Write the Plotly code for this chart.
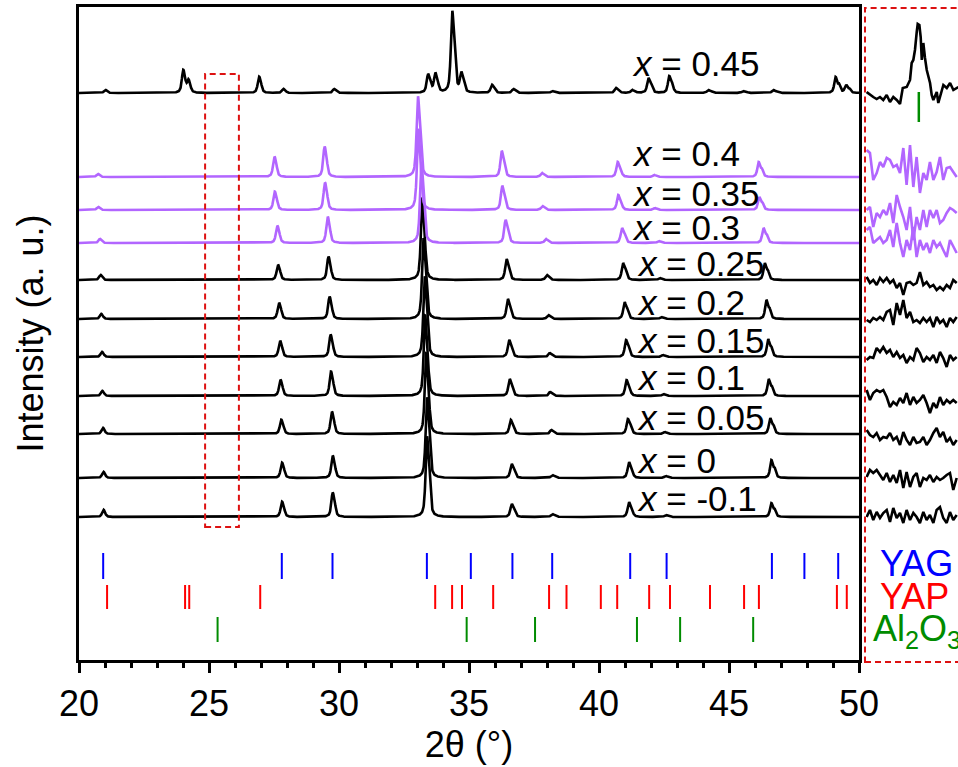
import numpy as np
import plotly.graph_objects as go

# ---------------- data ----------------
# base YAG-type peak positions (2θ, deg) of the x <= 0.25 series (x = -0.1 positions)
BASE_PEAKS = [20.93, 27.80, 29.75, 33.38, 36.64, 38.20, 41.15, 42.57, 46.63]

BLACK_LABELS = ["0.25", "0.2", "0.15", "0.1", "0.05", "0", "-0.1"]
BLACK_OFFSETS = [380, 341, 303, 264, 226, 182, 143]
BLACK_SHIFTS = [-0.0055, -0.0041, -0.0027, -0.0022, -0.0010, 0.0, 0.0]
BLACK_HEIGHTS = [
    [5, 15, 23, 80, 21, 5, 17, 2, 17],
    [5, 16, 22, 80, 20, 4, 17, 2, 19],
    [5, 16, 22, 80, 17, 4, 17, 2, 18],
    [5, 16, 24, 80, 17, 4, 16, 2, 17],
    [6, 14, 22, 80, 14, 4, 15, 2, 16],
    [6, 15, 22, 80, 14, 3, 16, 2, 18],
    [7, 15, 24, 80, 13, 3, 15, 2, 14],
]

PURPLE_LABELS = ["0.4", "0.35", "0.3"]
PURPLE_OFFSETS = [483, 450, 417]
PURPLE_SHIFTS = [-0.0105, -0.0100, -0.0065]
PURPLE_HEIGHTS = [
    [3, 20, 30, 80, 26, 4, 15, 2, 15],
    [3, 18, 27, 80, 24, 4, 15, 2, 13],
    [4, 17, 26, 80, 23, 4, 15, 2, 15],
]

TOP_LABEL = "0.45"
TOP_OFFSET = 567
TOP_PEAK_POS = [21.0, 24.0, 24.2, 26.92, 27.85, 29.8, 33.42, 33.7, 34.35, 34.7, 35.88,
                36.7, 38.2, 40.65, 41.27, 41.9, 42.7, 44.2, 45.55, 46.7, 49.1, 49.5]
TOP_PEAK_H = [3, 22, 12, 16, 4, 4, 18, 19, 81, 19, 8,
              4, 2, 5, 3, 15, 17, 3, 2, 3, 16, 8]

YAG_REF = [20.93, 27.8, 29.75, 33.38, 35.07, 36.67, 38.2, 41.2, 42.6, 46.65, 47.9, 49.2]
YAP_REF = [21.08, 24.08, 24.24, 26.97, 33.7, 34.35, 34.73, 35.93, 38.08, 38.75, 40.07,
           40.7, 41.93, 42.73, 44.27, 45.58, 46.15, 49.15, 49.53]
AL2O3_REF = [25.33, 34.91, 37.54, 41.46, 43.12, 45.93]

# zoomed inset (24.85-25.7 deg)
INSET_X = [24.856, 24.886, 24.916, 24.947, 24.977, 25.007, 25.038, 25.068, 25.098, 25.129,
           25.159, 25.189, 25.219, 25.25, 25.28, 25.31, 25.34, 25.371, 25.401, 25.431,
           25.462, 25.492, 25.522, 25.552, 25.583, 25.613, 25.643, 25.674]
INSET_PURPLE = [
    [510, 507, 480, 487, 498, 493, 502, 500, 493, 495, 487, 512, 475, 515, 473, 503, 467, 487,
     480, 498, 480, 488, 503, 480, 492, 493, 488, 483],
    [450, 453, 433, 447, 443, 450, 445, 457, 437, 465, 453, 443, 430, 453, 420, 443, 430, 450,
     433, 450, 442, 450, 437, 440, 447, 452, 450, 447],
    [430, 433, 417, 420, 423, 417, 420, 430, 413, 437, 417, 403, 420, 410, 433, 403, 420, 410,
     417, 407, 420, 413, 417, 410, 403, 420, 413, 407],
]
INSET_BLACK = [
    [383, 377, 380, 375, 382, 378, 382, 377, 380, 372, 377, 365, 377, 378, 375, 377, 388, 375,
     378, 373, 375, 370, 373, 370, 375, 372, 380, 377],
    [340, 338, 342, 340, 343, 340, 348, 350, 335, 357, 345, 360, 342, 348, 338, 340, 337, 342,
     338, 342, 333, 343, 337, 340, 333, 342, 338, 343],
    [300, 303, 302, 312, 308, 313, 307, 310, 303, 308, 302, 305, 297, 303, 300, 312, 307, 298,
     303, 300, 305, 297, 308, 302, 293, 305, 300, 303],
    [270, 260, 267, 270, 268, 270, 263, 253, 258, 255, 262, 257, 267, 255, 263, 257, 260, 265,
     257, 247, 257, 252, 263, 255, 260, 257, 260, 257],
    [230, 225, 223, 227, 220, 223, 222, 227, 220, 223, 215, 228, 220, 215, 223, 217, 218, 223,
     215, 220, 227, 232, 223, 228, 218, 222, 215, 220],
    [183, 190, 187, 190, 185, 180, 187, 178, 185, 177, 190, 172, 188, 173, 183, 187, 173, 182,
     180, 185, 178, 183, 180, 182, 185, 187, 170, 182],
    [143, 150, 140, 148, 142, 147, 150, 138, 152, 142, 147, 137, 150, 140, 147, 143, 137, 148,
     140, 145, 137, 150, 153, 142, 137, 148, 140, 145],
]
INSET_TOP_X = [24.856, 24.886, 24.916, 24.947, 24.977, 25.007, 25.038, 25.068, 25.098, 25.129,
               25.159, 25.184, 25.22, 25.25, 25.265, 25.28, 25.295, 25.311, 25.32, 25.335,
               25.347, 25.357, 25.371, 25.386, 25.402, 25.432, 25.447, 25.462, 25.493, 25.507,
               25.523, 25.553, 25.584, 25.614, 25.644, 25.689]
INSET_TOP_Y = [568, 565, 563, 561, 563, 560, 565, 558, 563, 560, 556, 572, 573, 580, 597, 600,
               610, 628, 636, 635, 623, 600, 617, 602, 590, 577, 565, 560, 568, 557, 563, 575,
               572, 577, 570, 573]

# ---------------- helpers ----------------
TT = np.arange(20.0, 50.0001, 0.01)
FWHM, ETA, KA2_RATIO = 0.12, 0.6, 0.5


def pv(d):
    u = d / (FWHM / 2)
    return ETA / (1 + u ** 2) + (1 - ETA) * np.exp(-np.log(2) * u ** 2)


def ka2(p):
    return 2 * np.degrees(np.arcsin(np.sin(np.radians(p / 2)) * 1.002486))


def pattern(positions, heights, offset):
    y = np.full_like(TT, float(offset))
    for p, h in zip(positions, heights):
        p2 = ka2(p)
        a = h / (1 + KA2_RATIO * pv(p2 - p))
        y += a * pv(TT - p) + a * KA2_RATIO * pv(TT - p2)
    return y


FONT = "Arial, Liberation Sans, sans-serif"
BLACK = "#000000"
PURPLE = "#b266ff"
RED = "#dd1111"

fig = go.Figure()

# black series (x <= 0.25)
for lab, off, sh, hs in zip(BLACK_LABELS, BLACK_OFFSETS, BLACK_SHIFTS, BLACK_HEIGHTS):
    pos = [p * (1 + sh) for p in BASE_PEAKS]
    fig.add_trace(go.Scatter(x=TT, y=pattern(pos, hs, off), mode="lines",
                             line=dict(color=BLACK, width=2.6), showlegend=False,
                             hoverinfo="skip"))
# purple series
for lab, off, sh, hs in zip(PURPLE_LABELS, PURPLE_OFFSETS, PURPLE_SHIFTS, PURPLE_HEIGHTS):
    pos = [p * (1 + sh) for p in BASE_PEAKS]
    fig.add_trace(go.Scatter(x=TT, y=pattern(pos, hs, off), mode="lines",
                             line=dict(color=PURPLE, width=2.6), showlegend=False,
                             hoverinfo="skip"))
# top series x = 0.45
fig.add_trace(go.Scatter(x=TT, y=pattern(TOP_PEAK_POS, TOP_PEAK_H, TOP_OFFSET), mode="lines",
                         line=dict(color=BLACK, width=2.6), showlegend=False,
                         hoverinfo="skip"))


# reference tick rows
def ticks(positions, y0, y1):
    xs, ys = [], []
    for p in positions:
        xs += [p, p, None]
        ys += [y0, y1, None]
    return xs, ys


for ref, col, (y0, y1) in ((YAG_REF, "#0000ff", (81, 107)),
                           (YAP_REF, "#ff0000", (51, 75)),
                           (AL2O3_REF, "#008c00", (18, 43))):
    xs, ys = ticks(ref, y0, y1)
    fig.add_trace(go.Scatter(x=xs, y=ys, mode="lines", line=dict(color=col, width=2),
                             showlegend=False, hoverinfo="skip"))

# inset traces
for ys in INSET_BLACK:
    fig.add_trace(go.Scatter(x=INSET_X, y=ys, mode="lines", xaxis="x2", yaxis="y2",
                             line=dict(color=BLACK, width=2.6), showlegend=False,
                             hoverinfo="skip"))
for ys in INSET_PURPLE:
    fig.add_trace(go.Scatter(x=INSET_X, y=ys, mode="lines", xaxis="x2", yaxis="y2",
                             line=dict(color=PURPLE, width=2.6), showlegend=False,
                             hoverinfo="skip"))
fig.add_trace(go.Scatter(x=INSET_TOP_X, y=INSET_TOP_Y, mode="lines", xaxis="x2", yaxis="y2",
                         line=dict(color=BLACK, width=2.6), showlegend=False, hoverinfo="skip"))
xs, ys = ticks([AL2O3_REF[0]], 538, 568)
fig.add_trace(go.Scatter(x=xs, y=ys, mode="lines", xaxis="x2", yaxis="y2",
                         line=dict(color="#008c00", width=2.5), showlegend=False,
                         hoverinfo="skip"))

# labels
label_y = {"0.45": 597, "0.4": 507, "0.35": 467, "0.3": 433, "0.25": 397, "0.2": 358,
           "0.15": 320, "0.1": 283, "0.05": 243, "0": 200, "-0.1": 162}
annotations = []
for lab in [TOP_LABEL] + PURPLE_LABELS + BLACK_LABELS:
    xpos = 41.2 if lab in [TOP_LABEL] + PURPLE_LABELS else 41.4
    annotations.append(dict(x=xpos, y=label_y[lab], xref="x", yref="y",
                            text="<i>x</i> = " + lab, showarrow=False, xanchor="left",
                            yanchor="middle", font=dict(family=FONT, size=35, color=BLACK)))

W, H = 958, 767
ML, MR, MT, MB = 79, 0, 7, 107
PW = W - ML - MR
PH = H - MT - MB


def px2paper_x(px):
    return (px - ML) / PW


def py2paper_y(py):
    return (H - MB - py) / PH


for txt, col, px, py in (("YAG", "#0000ff", 878, 563),
                         ("YAP", "#ff0000", 878, 596),
                         ("Al<sub>2</sub>O<sub>3</sub>", "#008c00", 871, 631)):
    annotations.append(dict(x=px2paper_x(px), y=py2paper_y(py), xref="paper", yref="paper",
                            text=txt, showarrow=False, xanchor="left", yanchor="middle",
                            font=dict(family=FONT, size=36, color=col)))

shapes = [
    dict(type="rect", xref="x", yref="y", x0=24.85, x1=26.15, y0=133, y1=586,
         line=dict(color=RED, width=2, dash="6px,4px")),
    dict(type="rect", xref="paper", yref="paper", x0=px2paper_x(865), x1=1.2,
         y0=py2paper_y(662), y1=py2paper_y(8),
         line=dict(color=RED, width=2, dash="6px,4px")),
]

fig.update_layout(
    width=W, height=H,
    margin=dict(l=ML, r=MR, t=MT, b=MB, pad=0, autoexpand=False),
    paper_bgcolor="white", plot_bgcolor="white",
    font=dict(family=FONT, size=36, color=BLACK),
    xaxis=dict(domain=[0, px2paper_x(859)], range=[20, 50], tickvals=[20, 25, 30, 35, 40, 45, 50],
               ticks="outside", ticklen=10, tickwidth=2.5, tickcolor=BLACK,
               minor=dict(dtick=1, ticks="outside", ticklen=5, tickwidth=2.5, tickcolor=BLACK),
               showline=True, linewidth=2.5, linecolor=BLACK, mirror=True,
               showgrid=False, zeroline=False, automargin=False,
               tickfont=dict(family=FONT, size=36, color=BLACK),
               title=dict(text="2θ (°)", font=dict(family=FONT, size=36, color=BLACK),
                          standoff=8)),
    yaxis=dict(domain=[0, 1], range=[0, PH], showticklabels=False, ticks="",
               showline=True, linewidth=2.5, linecolor=BLACK, mirror=True,
               showgrid=False, zeroline=False, automargin=False,
               title=dict(text="Intensity (a. u.)", font=dict(family=FONT, size=36, color=BLACK),
                          standoff=22)),
    xaxis2=dict(domain=[px2paper_x(866), 1], range=[24.85, 25.686], anchor="y2",
                visible=False, showgrid=False, zeroline=False),
    yaxis2=dict(domain=[0, 1], range=[0, PH], anchor="x2", visible=False,
                showgrid=False, zeroline=False),
    annotations=annotations,
    shapes=shapes,
)

fig.write_html("out.html")
